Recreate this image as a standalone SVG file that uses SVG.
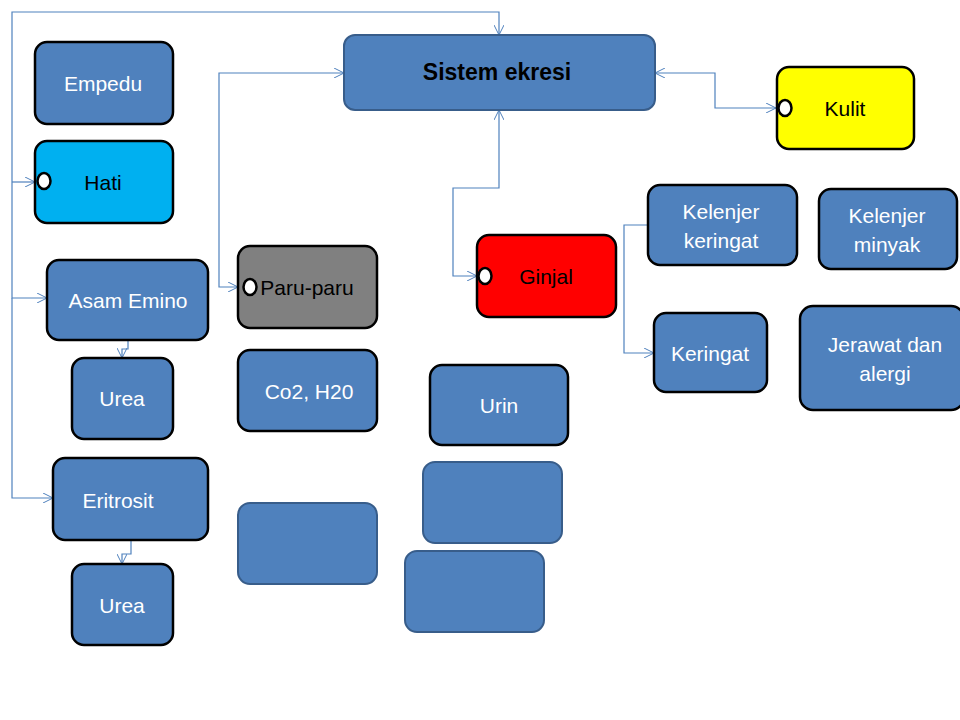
<svg xmlns="http://www.w3.org/2000/svg" width="960" height="720" viewBox="0 0 960 720">
<defs>
<marker id="arr" viewBox="0 0 10 10" refX="10" refY="5" markerWidth="10" markerHeight="10" markerUnits="userSpaceOnUse" orient="auto-start-reverse">
<path d="M0,0 L10,5 L0,10" fill="none" stroke="#4F81BD" stroke-width="1"/>
</marker>
<style>
.n{fill:#4F81BD;stroke:#000;stroke-width:2.5}
.nb{fill:#4F81BD;stroke:#385D8A;stroke-width:2}
.t{font-family:"Liberation Sans",Arial,sans-serif;font-size:21px;fill:#fff;text-anchor:middle;dominant-baseline:central}
.tk{fill:#000}
.c{fill:none;stroke:#4F81BD;stroke-width:1.2;marker-end:url(#arr)}
.d{marker-start:url(#arr)}
.p{fill:#fff;stroke:#000;stroke-width:2.5}
</style>
</defs>
<rect width="960" height="720" fill="#fff"/>
<g id="connectors">
<path class="c" d="M12,182 V12 H499 V35"/>
<path class="c" d="M12,182 H35"/>
<path class="c" d="M12,182 V298 H47"/>
<path class="c" d="M12,298 V498 H53"/>
<path class="c d" d="M344,73 H219 V287 H238"/>
<path class="c d" d="M499,110 V188 H453 V276 H477"/>
<path class="c d" d="M655,73 H715 V108 H776"/>
<path class="c" d="M648,225 H624 V353 H654"/>
<path class="c" d="M128,340 V349 H122 V358"/>
<path class="c" d="M131,540 V554 H122 V564"/>
</g>
<g id="sistem"><rect x="344" y="35" width="311" height="75" rx="11" fill="#4F81BD" stroke="#385D8A" stroke-width="2"/><text class="t tk" x="497" y="72" style="font-weight:bold;font-size:23px">Sistem ekresi</text></g>
<g id="empedu"><rect class="n" x="35" y="42" width="138" height="82" rx="12"/><text class="t" x="103" y="83">Empedu</text></g>
<g id="hati"><rect class="n" x="35" y="141" width="138" height="82" rx="12" style="fill:#00B0F0"/><ellipse class="p" cx="44" cy="181" rx="6.5" ry="8"/><text class="t tk" x="103" y="182">Hati</text></g>
<g id="asam"><rect class="n" x="47" y="260" width="161" height="80" rx="12"/><text class="t" x="128" y="300">Asam Emino</text></g>
<g id="urea1"><rect class="n" x="72" y="358" width="101" height="81" rx="12"/><text class="t" x="122" y="398">Urea</text></g>
<g id="eritrosit"><rect class="n" x="53" y="458" width="155" height="82" rx="12"/><text class="t" x="118" y="500">Eritrosit</text></g>
<g id="urea2"><rect class="n" x="72" y="564" width="101" height="81" rx="12"/><text class="t" x="122" y="605">Urea</text></g>
<g id="paru"><rect class="n" x="238" y="246" width="139" height="82" rx="12" style="fill:#808080"/><ellipse class="p" cx="250" cy="287" rx="6.5" ry="8"/><text class="t tk" x="307" y="287">Paru-paru</text></g>
<g id="co2"><rect class="n" x="238" y="350" width="139" height="81" rx="12"/><text class="t" x="309" y="391">Co2, H20</text></g>
<g id="blank1"><rect class="nb" x="238" y="503" width="139" height="81" rx="12"/></g>
<g id="ginjal"><rect class="n" x="477" y="235" width="139" height="82" rx="12" style="fill:#FF0000"/><ellipse class="p" cx="485" cy="276" rx="6.5" ry="8"/><text class="t tk" x="546" y="276">Ginjal</text></g>
<g id="urin"><rect class="n" x="430" y="365" width="138" height="80" rx="12"/><text class="t" x="499" y="405">Urin</text></g>
<g id="blank2"><rect class="nb" x="423" y="462" width="139" height="81" rx="12"/></g>
<g id="blank3"><rect class="nb" x="405" y="551" width="139" height="81" rx="12"/></g>
<g id="kulit"><rect class="n" x="777" y="67" width="137" height="82" rx="12" style="fill:#FFFF00"/><ellipse class="p" cx="785" cy="108" rx="6.5" ry="8"/><text class="t tk" x="845" y="108">Kulit</text></g>
<g id="kelenjer-keringat"><rect class="n" x="648" y="185" width="149" height="80" rx="12"/><text class="t" x="721" y="211">Kelenjer</text><text class="t" x="721" y="240">keringat</text></g>
<g id="kelenjer-minyak"><rect class="n" x="819" y="189" width="138" height="80" rx="12"/><text class="t" x="887" y="215">Kelenjer</text><text class="t" x="887" y="244">minyak</text></g>
<g id="keringat"><rect class="n" x="654" y="313" width="113" height="79" rx="12"/><text class="t" x="710" y="353">Keringat</text></g>
<g id="jerawat"><rect class="n" x="800" y="306" width="164" height="104" rx="13"/><text class="t" x="885" y="344">Jerawat dan</text><text class="t" x="885" y="373">alergi</text></g>
</svg>
